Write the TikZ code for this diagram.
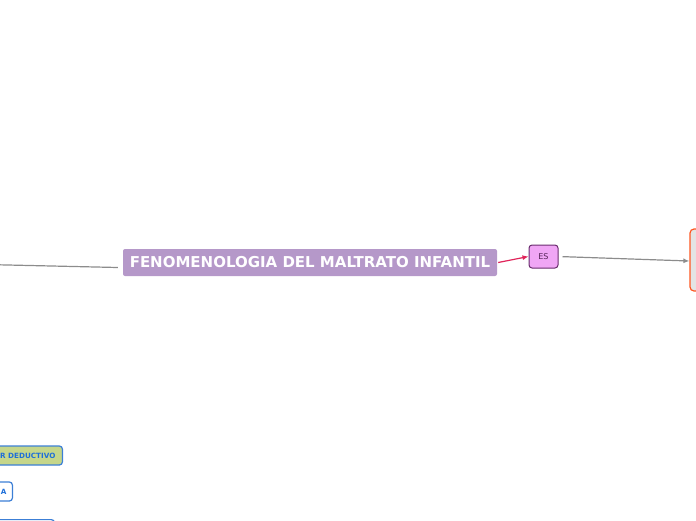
\documentclass[tikz,border=0pt]{standalone}
\usepackage{fontspec}
\setmainfont{DejaVu Sans}
\usepackage{tikz}
\usetikzlibrary{arrows.meta}
\definecolor{mainfill}{HTML}{B598C9}
\definecolor{esfill}{HTML}{F0A6F5}
\definecolor{esdraw}{HTML}{6A2C6E}
\definecolor{redline}{HTML}{E0245A}
\definecolor{grayline}{HTML}{8C8C8C}
\definecolor{orangedraw}{HTML}{FF5722}
\definecolor{lightfill}{HTML}{E4E4E4}
\definecolor{greenfill}{HTML}{C5D68A}
\definecolor{bluedraw}{HTML}{3C7FD6}
\definecolor{bluetext}{HTML}{1E6FD9}
\tikzset{
    mainbox/.style={fill=mainfill, text=white, rounded corners=2pt, minimum width=374pt, minimum height=27pt, inner sep=0pt, font=\bfseries\fontsize{15}{17}\selectfont},
    esbox/.style={draw=esdraw, fill=esfill, text=esdraw!80!black, rounded corners=3pt, line width=1pt, minimum width=29pt, minimum height=23pt, inner sep=0pt, font=\fontsize{8}{10}\selectfont},
    rightbox/.style={draw=orangedraw, fill=lightfill, rounded corners=4pt, line width=1.2pt, minimum width=30pt, minimum height=62pt},
    leafbox/.style={draw=bluedraw, text=bluetext, rounded corners=3pt, line width=1.2pt, minimum height=19pt, inner xsep=7pt, font=\bfseries\fontsize{7.2}{9}\selectfont},
    link/.style={draw=grayline, line width=1.2pt}
}
\begin{document}
\begin{tikzpicture}[x=1pt, y=-1pt]
    \clip (0,0) rectangle (696,520); % page frame
    % Nodes
    \node[mainbox] (main) at (310,262.5) {FENOMENOLOGIA DEL MALTRATO INFANTIL};
    \node[esbox] (es) at (543.5,256.5) {ES};
    \node[rightbox] (right) at (705,260) {};
    \node[leafbox, fill=greenfill, anchor=east] (deductivo) at (63,455.5) {R DEDUCTIVO};
    \node[leafbox, fill=white, anchor=east, inner xsep=6pt] (leafa) at (13,491.5) {A};
    \node[leafbox, fill=white, anchor=north east, minimum width=80pt] (leafc) at (55,519) {};
    \coordinate (lft) at (-10,264.6);
    % Connectors
    \draw[link] (lft) -- ([shift={(-5pt,-5pt)}]main.west);
    \draw[draw=redline, line width=1.2pt, -{Latex[length=6pt,width=5pt]}] ([xshift=1pt]main.east) -- (es.west);
    \draw[link, -{Latex[length=6pt,width=5pt]}, shorten <=4pt] (es.east) -- ([yshift=-1pt]right.west);
\end{tikzpicture}
\end{document}
